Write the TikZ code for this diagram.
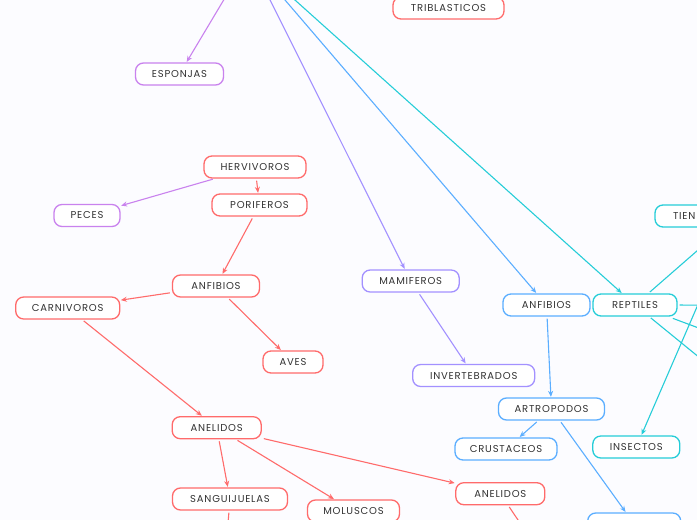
\documentclass[tikz,border=0pt]{standalone}
\usepackage{fontspec}
\setmainfont{Poppins}
\newfontfamily\boxfont[LetterSpace=8]{Poppins}
\usetikzlibrary{arrows.meta,calc}
\definecolor{cred}{HTML}{FF6B6B}
\definecolor{cpur}{HTML}{C982EE}
\definecolor{clav}{HTML}{A391FF}
\definecolor{cblu}{HTML}{5BAEFF}
\definecolor{ccya}{HTML}{26CDD8}
\definecolor{ctxt}{HTML}{333333}
\tikzset{
  box/.style={draw, line width=1.3pt, rounded corners=8pt, minimum height=22pt,
    inner sep=0pt, font=\boxfont\fontsize{10}{12}\selectfont, text=ctxt, fill=white},
  link/.style={line width=1.1pt, shorten <=2pt, shorten >=0.5pt, -{Stealth[length=6pt,width=5pt]}},
  plain/.style={line width=1.1pt, shorten <=2pt},
}
\begin{document}
\begin{tikzpicture}[x=1pt,y=-1pt]
\useasboundingbox (0,0) rectangle (697,520);
\fill[white!99!blue] (0,0) rectangle (697,520);
\clip (0,0) rectangle (697,520);

% off-canvas ends
\coordinate (top1) at (241.6,-30);
\coordinate (top2) at (255,-30);
\coordinate (top3) at (259.3,-30);
\coordinate (top4) at (261.5,-30);
\coordinate (bot1) at (225,560);
\coordinate (bot2) at (545,560);
\coordinate (rA) at (760,305.7);
\coordinate (rB) at (760,351);
\coordinate (rC) at (760,407);
\coordinate (rD) at (708.6,280);

% nodes
\node[box, draw=cred, minimum width=111pt] (tribl) at (448.5,8) {TRIBLASTICOS};
\node[box, draw=cpur, minimum width=88pt] (espon) at (179.5,74) {ESPONJAS};
\node[box, draw=cred, minimum width=102pt] (herv) at (255,167) {HERVIVOROS};
\node[box, draw=cred, minimum width=95pt] (porif) at (259.5,205) {PORIFEROS};
\node[box, draw=cpur, minimum width=66pt] (peces) at (87,215.5) {PECES};
\node[box, draw=cred, minimum width=87pt] (anfr) at (216,286) {ANFIBIOS};
\node[box, draw=cred, minimum width=104pt] (carn) at (67.7,308) {CARNIVOROS};
\node[box, draw=cred, minimum width=60pt] (aves) at (293,362) {AVES};
\node[box, draw=cred, minimum width=89pt] (anel1) at (216.7,427.7) {ANELIDOS};
\node[box, draw=cred, minimum width=115pt] (sangu) at (230,499) {SANGUIJUELAS};
\node[box, draw=cred, minimum width=92pt] (molus) at (353.5,511) {MOLUSCOS};
\node[box, draw=cred, minimum width=89pt] (anel2) at (500.3,493.7) {ANELIDOS};
\node[box, draw=clav, minimum width=97pt] (mami) at (410.7,281) {MAMIFEROS};
\node[box, draw=clav, minimum width=122pt] (inver) at (473.7,375.5) {INVERTEBRADOS};
\node[box, draw=cblu, minimum width=87pt] (anfb) at (546.5,305) {ANFIBIOS};
\node[box, draw=ccya, minimum width=84pt] (rept) at (635,305) {REPTILES};
\node[box, draw=cblu, minimum width=106pt] (artro) at (551.5,409) {ARTROPODOS};
\node[box, draw=cblu, minimum width=102pt] (crust) at (506,449) {CRUSTACEOS};
\node[box, draw=cblu, minimum width=93pt] (bluebot) at (634.2,524) {};
\node[box, draw=ccya, minimum width=87pt] (insec) at (636.3,447) {INSECTOS};
\node[box, draw=ccya, text width=128pt, align=left, inner xsep=18pt] (tien) at (737,216) {TIEN};

% connectors from above
\draw[link, cpur] (top1) -- (espon);
\draw[link, clav] (top2) -- (mami);
\draw[link, cblu] (top3) -- (anfb);
\draw[link, ccya] (top4) -- (rept);

% red tree
\draw[link, cred] (herv) -- (porif);
\draw[link, cpur] (herv) -- (peces);
\draw[link, cred] (porif) -- (anfr);
\draw[link, cred] (anfr) -- (carn);
\draw[link, cred] (anfr) -- (aves);
\draw[link, cred] (carn) -- (anel1);
\draw[link, cred] (anel1) -- (sangu);
\draw[link, cred] (anel1) -- (molus);
\draw[link, cred] (anel1) -- (anel2);
\draw[plain, cred] (sangu) -- (bot1);
\draw[plain, cred] (anel2) -- (bot2);

% lavender
\draw[link, clav] (mami) -- (inver);

% blue
\draw[link, cblu] (anfb) -- (artro);
\draw[link, cblu] (artro) -- (crust);
\draw[link, cblu] (artro) -- (bluebot);

% cyan
\draw[plain, ccya] (rept) -- (tien);
\draw[plain, ccya] (rept.east) -- (rA);
\draw[plain, ccya] ($(rept.south)+(36,1)$) -- (rB);
\draw[plain, ccya] (rept) -- (rC);
\draw[link, ccya] (rD) -- (insec);
\end{tikzpicture}
\end{document}
